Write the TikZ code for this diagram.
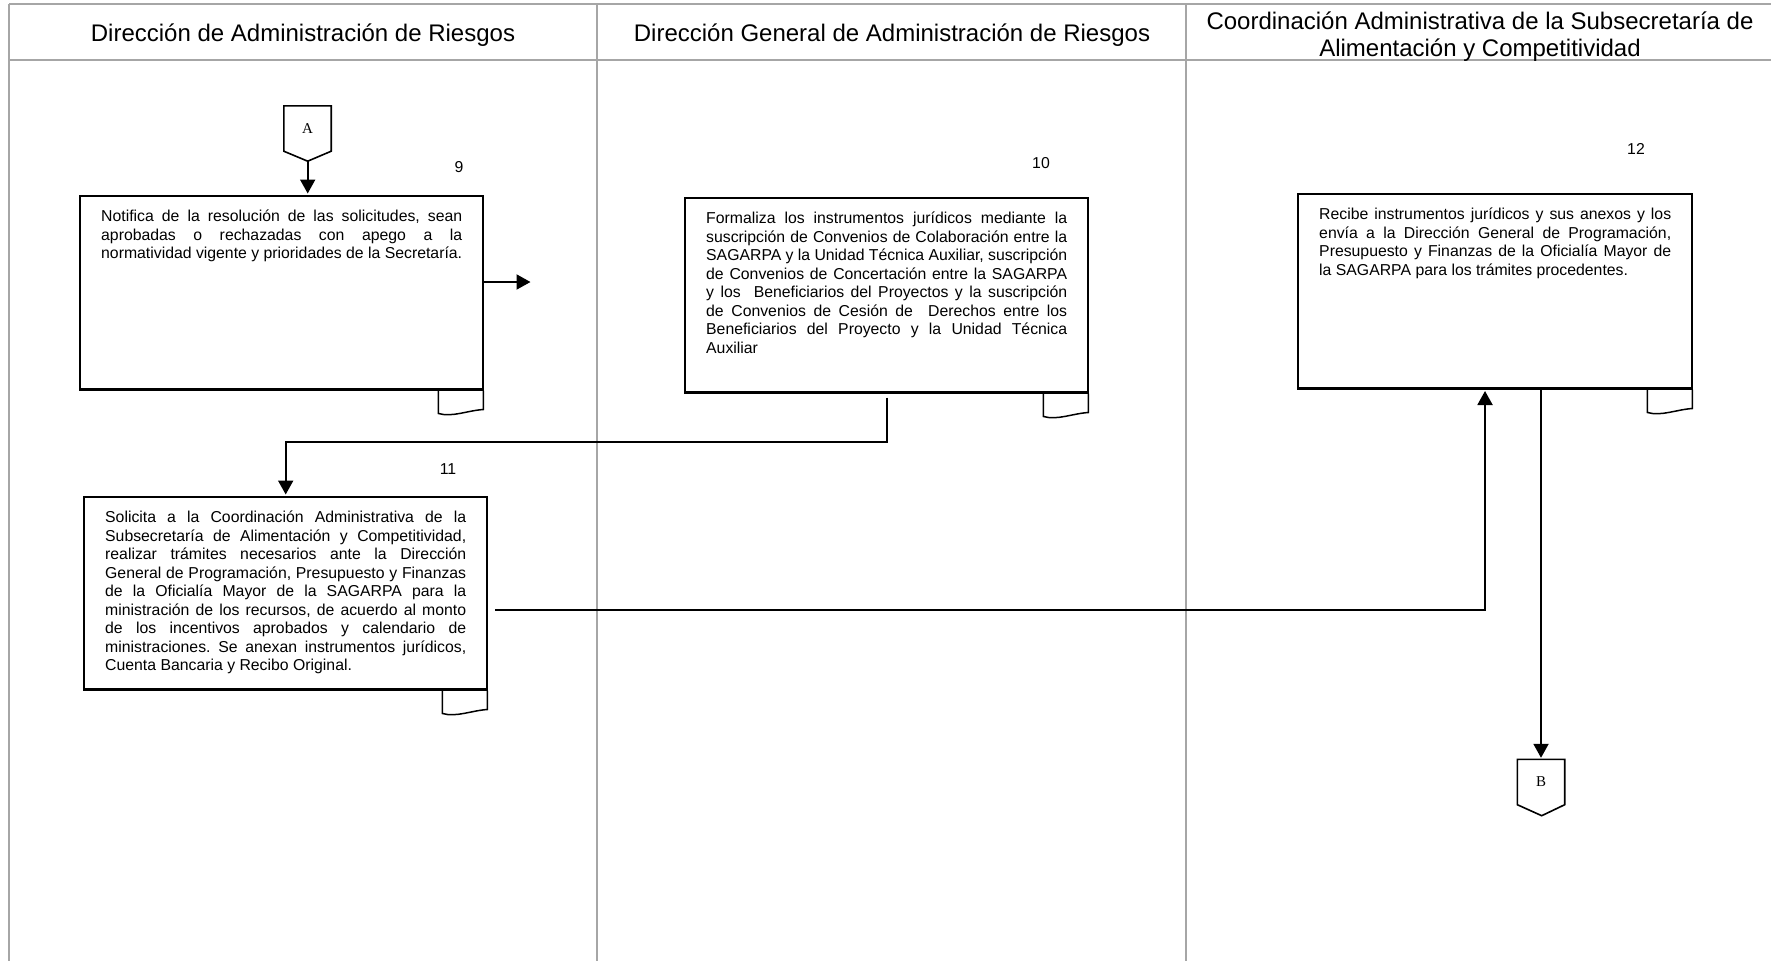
\documentclass[tikz,border=0pt]{standalone}
\usepackage{fontspec}
\setmainfont{Liberation Sans}
\newfontfamily\serifAB{Liberation Serif}
\usetikzlibrary{arrows.meta}
\frenchspacing

\newcommand{\cuerpo}{\fontsize{15.8pt}{18.5pt}\selectfont\tolerance=10000\hyphenpenalty=10000\exhyphenpenalty=10000}
\newcommand{\hoja}[1]{\draw[pestana] ([xshift=-46pt]#1.south east) -- ++(0,23) .. controls +(14,4) and +(-16,1) .. ++(45,-4) -- ++(0,-19);}

\tikzset{
  carril/.style={draw=gray!70, line width=1.2pt},
  encabezado/.style={font=\fontsize{24pt}{27.5pt}\selectfont, align=center},
  actividad/.style={draw, line width=2.4pt, anchor=north west, text width=361pt,
    inner xsep=21pt, inner ysep=14pt, text height=11.3pt, align=justify, font=\cuerpo},
  numero/.style={font=\fontsize{15.8pt}{18pt}\selectfont, inner sep=0pt},
  conector/.style={minimum width=47pt, minimum height=45pt, inner sep=0pt,
    font=\serifAB\fontsize{15pt}{15pt}\selectfont},
  pentagono/.style={line width=1.6pt},
  pestana/.style={line width=1.5pt},
  flecha/.style={line width=2pt, shorten >=1.5pt, -{Triangle[length=14pt,width=15pt]}}
}

\begin{document}
\begin{tikzpicture}[x=1pt,y=-1pt]
    \useasboundingbox (0,0) rectangle (1771,961);

    % carriles
    \draw[carril] (9,4) -- (1771,4);
    \draw[carril] (9,60) -- (1771,60);
    \draw[carril] (9,4) -- (9,961);
    \draw[carril] (597,4) -- (597,961);
    \draw[carril] (1186,4) -- (1186,961);
    \node[encabezado] (carril1) at (303,35.5) {Dirección de Administración de Riesgos};
    \node[encabezado] (carril2) at (892,35.5) {Dirección General de Administración de Riesgos};
    \node[encabezado] (carril3) at (1480,36.5) {Coordinación Administrativa de la Subsecretaría de\\Alimentación y Competitividad};

    % actividades
    \node[actividad, text depth=153.8pt] (act9) at (79,195) {Notifica de la resolución de las solicitudes, sean\linebreak aprobadas o rechazadas con apego a la\linebreak normatividad vigente y prioridades de la Secretaría.};
    \node[actividad, text depth=154.8pt] (act10) at (684,197) {Formaliza los instrumentos jurídicos mediante la\linebreak suscripción de Convenios de Colaboración entre la\linebreak SAGARPA y la Unidad Técnica Auxiliar, suscripción\linebreak de Convenios de Concertación entre la SAGARPA\linebreak y los\ \ Beneficiarios del Proyectos y la suscripción\linebreak de Convenios de Cesión de\ \ Derechos entre los\linebreak Beneficiarios del Proyecto y la Unidad Técnica\linebreak Auxiliar};
    \node[actividad, text depth=152.8pt] (act11) at (83,496) {Solicita a la Coordinación Administrativa de la\linebreak Subsecretaría de Alimentación y Competitividad,\linebreak realizar trámites necesarios ante la Dirección\linebreak General de Programación, Presupuesto y Finanzas\linebreak de la Oficialía Mayor de la SAGARPA para la\linebreak ministración de los recursos, de acuerdo al monto\linebreak de los incentivos aprobados y calendario de\linebreak ministraciones. Se anexan instrumentos jurídicos,\linebreak Cuenta Bancaria y Recibo Original.};
    \node[actividad, text width=352pt, text depth=154.8pt] (act12) at (1297,193) {Recibe instrumentos jurídicos y sus anexos y los\linebreak envía a la Dirección General de Programación,\linebreak Presupuesto y Finanzas de la Oficialía Mayor de\linebreak la SAGARPA para los trámites procedentes.};
    \hoja{act9}
    \hoja{act10}
    \hoja{act11}
    \hoja{act12}

    \node[numero] (n9) at (459,167) {9};
    \node[numero] (n10) at (1041,163) {10};
    \node[numero] (n11) at (448,469) {11};
    \node[numero] (n12) at (1636,149) {12};

    % conectores de pagina
    \node[conector] (conA) at (307.5,128.5) {A};
    \draw[pentagono] (conA.south west) -- (conA.north west) -- (conA.north east) -- (conA.south east) -- ++(-23.5,10) coordinate (puntaA) -- cycle;
    \node[conector] (conB) at (1541,782) {B};
    \draw[pentagono] (conB.south west) -- (conB.north west) -- (conB.north east) -- (conB.south east) -- ++(-23,11) coordinate (puntaB) -- cycle;

    % flujo
    \coordinate (sal9) at (532,282);
    \coordinate (codo) at (1485,610);
    \draw[flecha] (puntaA) -- (puntaA |- act9.north);
    \draw[flecha] (act9.east |- sal9) -- (sal9);
    \draw[flecha] ([yshift=-4pt]act10.south) -- ++(0,44) -| (act11.north);
    \draw[flecha] (act11.east |- codo) ++(7,0) -- (codo) -- (codo |- act12.south);
    \draw[flecha] (conB.north |- act12.south) -- (conB.north);
\end{tikzpicture}
\end{document}
